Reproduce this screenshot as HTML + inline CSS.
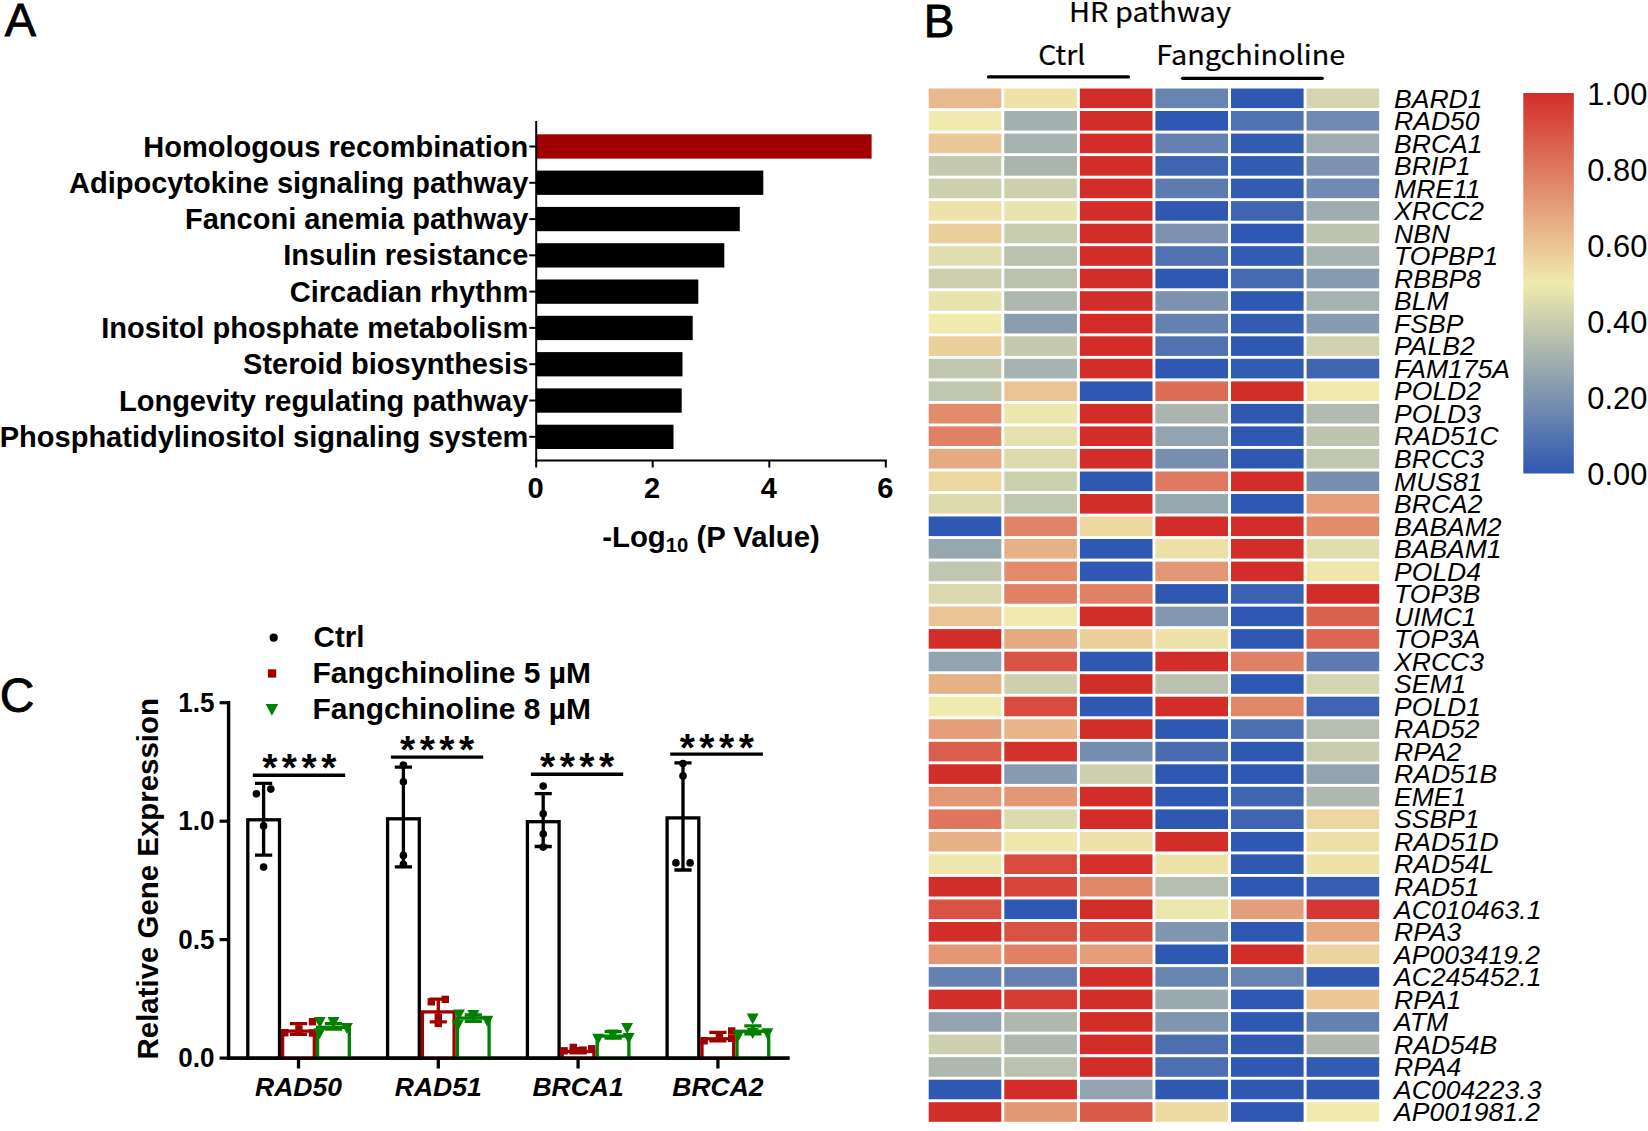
<!DOCTYPE html>
<html lang="en"><head><meta charset="utf-8"><title>Figure</title>
<style>
html,body{margin:0;padding:0;background:#fff;}
body{width:1648px;height:1131px;overflow:hidden;}
svg{display:block;font-family:"Liberation Sans", Arial, Helvetica, sans-serif;}
</style></head><body>
<svg width="1648" height="1131" viewBox="0 0 1648 1131">
<rect width="1648" height="1131" fill="#fff"/>
<g id="panelA">
<text x="4.8" y="35.8" font-size="47" font-weight="normal" font-style="normal" text-anchor="start" fill="#000" stroke="#000" stroke-width="0.8">A</text>
<rect x="536.2" y="134.3" width="335.4" height="24.3" fill="#a00000"/>
<line x1="529.3" x2="536.2" y1="146.5" y2="146.5" stroke="#000" stroke-width="2"/>
<text x="528.3" y="156.5" font-size="29" font-weight="bold" font-style="normal" text-anchor="end" fill="#000">Homologous recombination</text>
<rect x="536.2" y="170.6" width="227.1" height="24.3" fill="#000"/>
<line x1="529.3" x2="536.2" y1="182.8" y2="182.8" stroke="#000" stroke-width="2"/>
<text x="528.3" y="192.8" font-size="29" font-weight="bold" font-style="normal" text-anchor="end" fill="#000">Adipocytokine signaling pathway</text>
<rect x="536.2" y="206.9" width="203.6" height="24.3" fill="#000"/>
<line x1="529.3" x2="536.2" y1="219.1" y2="219.1" stroke="#000" stroke-width="2"/>
<text x="528.3" y="229.1" font-size="29" font-weight="bold" font-style="normal" text-anchor="end" fill="#000">Fanconi anemia pathway</text>
<rect x="536.2" y="243.2" width="188.1" height="24.3" fill="#000"/>
<line x1="529.3" x2="536.2" y1="255.3" y2="255.3" stroke="#000" stroke-width="2"/>
<text x="528.3" y="265.4" font-size="29" font-weight="bold" font-style="normal" text-anchor="end" fill="#000">Insulin resistance</text>
<rect x="536.2" y="279.5" width="162.1" height="24.3" fill="#000"/>
<line x1="529.3" x2="536.2" y1="291.6" y2="291.6" stroke="#000" stroke-width="2"/>
<text x="528.3" y="301.6" font-size="29" font-weight="bold" font-style="normal" text-anchor="end" fill="#000">Circadian rhythm</text>
<rect x="536.2" y="315.8" width="156.5" height="24.3" fill="#000"/>
<line x1="529.3" x2="536.2" y1="327.9" y2="327.9" stroke="#000" stroke-width="2"/>
<text x="528.3" y="337.9" font-size="29" font-weight="bold" font-style="normal" text-anchor="end" fill="#000">Inositol phosphate metabolism</text>
<rect x="536.2" y="352.1" width="146.3" height="24.3" fill="#000"/>
<line x1="529.3" x2="536.2" y1="364.2" y2="364.2" stroke="#000" stroke-width="2"/>
<text x="528.3" y="374.2" font-size="29" font-weight="bold" font-style="normal" text-anchor="end" fill="#000">Steroid biosynthesis</text>
<rect x="536.2" y="388.4" width="145.5" height="24.3" fill="#000"/>
<line x1="529.3" x2="536.2" y1="400.5" y2="400.5" stroke="#000" stroke-width="2"/>
<text x="528.3" y="410.5" font-size="29" font-weight="bold" font-style="normal" text-anchor="end" fill="#000">Longevity regulating pathway</text>
<rect x="536.2" y="424.7" width="137.3" height="24.3" fill="#000"/>
<line x1="529.3" x2="536.2" y1="436.8" y2="436.8" stroke="#000" stroke-width="2"/>
<text x="528.3" y="446.8" font-size="29" font-weight="bold" font-style="normal" text-anchor="end" fill="#000">Phosphatidylinositol signaling system</text>
<line x1="536.2" x2="536.2" y1="121" y2="461.5" stroke="#000" stroke-width="2"/>
<line x1="535.2" x2="886.8" y1="460.5" y2="460.5" stroke="#000" stroke-width="2"/>
<line x1="536.2" x2="536.2" y1="460.5" y2="467.5" stroke="#000" stroke-width="2"/>
<text x="535.6" y="497.7" font-size="29" font-weight="bold" font-style="normal" text-anchor="middle" fill="#000">0</text>
<line x1="652.7" x2="652.7" y1="460.5" y2="467.5" stroke="#000" stroke-width="2"/>
<text x="652.1" y="497.7" font-size="29" font-weight="bold" font-style="normal" text-anchor="middle" fill="#000">2</text>
<line x1="769.3" x2="769.3" y1="460.5" y2="467.5" stroke="#000" stroke-width="2"/>
<text x="768.7" y="497.7" font-size="29" font-weight="bold" font-style="normal" text-anchor="middle" fill="#000">4</text>
<line x1="885.8" x2="885.8" y1="460.5" y2="467.5" stroke="#000" stroke-width="2"/>
<text x="885.2" y="497.7" font-size="29" font-weight="bold" font-style="normal" text-anchor="middle" fill="#000">6</text>
<text x="602.2" y="547.3" font-size="29" font-weight="bold" fill="#000" textLength="217.6" lengthAdjust="spacingAndGlyphs">-Log<tspan font-size="20" dy="5">10</tspan><tspan dy="-5"> (P Value)</tspan></text>
</g>
<g id="panelB">
<text x="923.8" y="37" font-size="46" font-weight="normal" font-style="normal" text-anchor="start" fill="#000" stroke="#000" stroke-width="0.8">B</text>
<text x="1069" y="21.8" font-size="27" font-weight="normal" font-style="normal" text-anchor="start" fill="#000" font-family='"Noto Sans CJK SC", "Liberation Sans", sans-serif' textLength="162" lengthAdjust="spacingAndGlyphs" stroke="#000" stroke-width="0.2">HR pathway</text>
<text x="1038.3" y="64.9" font-size="27" font-weight="normal" font-style="normal" text-anchor="start" fill="#000" font-family='"Noto Sans CJK SC", "Liberation Sans", sans-serif' textLength="47" lengthAdjust="spacingAndGlyphs" stroke="#000" stroke-width="0.2">Ctrl</text>
<text x="1156.2" y="64.9" font-size="27" font-weight="normal" font-style="normal" text-anchor="start" fill="#000" font-family='"Noto Sans CJK SC", "Liberation Sans", sans-serif' textLength="189" lengthAdjust="spacingAndGlyphs" stroke="#000" stroke-width="0.2">Fangchinoline</text>
<line x1="988.5" x2="1128.5" y1="76.9" y2="76.9" stroke="#000" stroke-width="3.2" stroke-linecap="round"/>
<line x1="1182.5" x2="1322.3" y1="78.3" y2="78.3" stroke="#000" stroke-width="3.2" stroke-linecap="round"/>
<rect x="928.7" y="88.5" width="72.6" height="19.6" fill="#e8b98c"/>
<rect x="1004.3" y="88.5" width="72.6" height="19.6" fill="#efe2a9"/>
<rect x="1079.9" y="88.5" width="72.6" height="19.6" fill="#d32d2a"/>
<rect x="1155.4" y="88.5" width="72.6" height="19.6" fill="#6884b1"/>
<rect x="1231.0" y="88.5" width="72.6" height="19.6" fill="#2e58b2"/>
<rect x="1306.6" y="88.5" width="72.6" height="19.6" fill="#d5d6af"/>
<text x="1394.1" y="107.5" font-size="26.5" font-weight="normal" font-style="italic" text-anchor="start" fill="#000">BARD1</text>
<rect x="928.7" y="111.0" width="72.6" height="19.6" fill="#f0eaae"/>
<rect x="1004.3" y="111.0" width="72.6" height="19.6" fill="#a2b0b0"/>
<rect x="1079.9" y="111.0" width="72.6" height="19.6" fill="#d32d2a"/>
<rect x="1155.4" y="111.0" width="72.6" height="19.6" fill="#2e58b2"/>
<rect x="1231.0" y="111.0" width="72.6" height="19.6" fill="#5172b1"/>
<rect x="1306.6" y="111.0" width="72.6" height="19.6" fill="#708ab1"/>
<text x="1394.1" y="130.0" font-size="26.5" font-weight="normal" font-style="italic" text-anchor="start" fill="#000">RAD50</text>
<rect x="928.7" y="133.6" width="72.6" height="19.6" fill="#ebc896"/>
<rect x="1004.3" y="133.6" width="72.6" height="19.6" fill="#a6b3b0"/>
<rect x="1079.9" y="133.6" width="72.6" height="19.6" fill="#d32d2a"/>
<rect x="1155.4" y="133.6" width="72.6" height="19.6" fill="#6481b1"/>
<rect x="1231.0" y="133.6" width="72.6" height="19.6" fill="#325bb2"/>
<rect x="1306.6" y="133.6" width="72.6" height="19.6" fill="#9fadb0"/>
<text x="1394.1" y="152.6" font-size="26.5" font-weight="normal" font-style="italic" text-anchor="start" fill="#000">BRCA1</text>
<rect x="928.7" y="156.1" width="72.6" height="19.6" fill="#c5caaf"/>
<rect x="1004.3" y="156.1" width="72.6" height="19.6" fill="#aab5af"/>
<rect x="1079.9" y="156.1" width="72.6" height="19.6" fill="#d32d2a"/>
<rect x="1155.4" y="156.1" width="72.6" height="19.6" fill="#3e64b2"/>
<rect x="1231.0" y="156.1" width="72.6" height="19.6" fill="#325bb2"/>
<rect x="1306.6" y="156.1" width="72.6" height="19.6" fill="#7c92b0"/>
<text x="1394.1" y="175.1" font-size="26.5" font-weight="normal" font-style="italic" text-anchor="start" fill="#000">BRIP1</text>
<rect x="928.7" y="178.6" width="72.6" height="19.6" fill="#cdd0af"/>
<rect x="1004.3" y="178.6" width="72.6" height="19.6" fill="#cdd0af"/>
<rect x="1079.9" y="178.6" width="72.6" height="19.6" fill="#d32d2a"/>
<rect x="1155.4" y="178.6" width="72.6" height="19.6" fill="#5d7bb1"/>
<rect x="1231.0" y="178.6" width="72.6" height="19.6" fill="#325bb2"/>
<rect x="1306.6" y="178.6" width="72.6" height="19.6" fill="#708ab1"/>
<text x="1394.1" y="197.6" font-size="26.5" font-weight="normal" font-style="italic" text-anchor="start" fill="#000">MRE11</text>
<rect x="928.7" y="201.1" width="72.6" height="19.6" fill="#efe2a9"/>
<rect x="1004.3" y="201.1" width="72.6" height="19.6" fill="#e8e4ae"/>
<rect x="1079.9" y="201.1" width="72.6" height="19.6" fill="#d32d2a"/>
<rect x="1155.4" y="201.1" width="72.6" height="19.6" fill="#2e58b2"/>
<rect x="1231.0" y="201.1" width="72.6" height="19.6" fill="#3e64b2"/>
<rect x="1306.6" y="201.1" width="72.6" height="19.6" fill="#9fadb0"/>
<text x="1394.1" y="220.1" font-size="26.5" font-weight="normal" font-style="italic" text-anchor="start" fill="#000">XRCC2</text>
<rect x="928.7" y="223.7" width="72.6" height="19.6" fill="#ecd09c"/>
<rect x="1004.3" y="223.7" width="72.6" height="19.6" fill="#c9cdaf"/>
<rect x="1079.9" y="223.7" width="72.6" height="19.6" fill="#d32d2a"/>
<rect x="1155.4" y="223.7" width="72.6" height="19.6" fill="#7c92b0"/>
<rect x="1231.0" y="223.7" width="72.6" height="19.6" fill="#2e58b2"/>
<rect x="1306.6" y="223.7" width="72.6" height="19.6" fill="#bec4af"/>
<text x="1394.1" y="242.7" font-size="26.5" font-weight="normal" font-style="italic" text-anchor="start" fill="#000">NBN</text>
<rect x="928.7" y="246.2" width="72.6" height="19.6" fill="#e0deae"/>
<rect x="1004.3" y="246.2" width="72.6" height="19.6" fill="#bac1af"/>
<rect x="1079.9" y="246.2" width="72.6" height="19.6" fill="#d32d2a"/>
<rect x="1155.4" y="246.2" width="72.6" height="19.6" fill="#5172b1"/>
<rect x="1231.0" y="246.2" width="72.6" height="19.6" fill="#325bb2"/>
<rect x="1306.6" y="246.2" width="72.6" height="19.6" fill="#a6b3b0"/>
<text x="1394.1" y="265.2" font-size="26.5" font-weight="normal" font-style="italic" text-anchor="start" fill="#000">TOPBP1</text>
<rect x="928.7" y="268.7" width="72.6" height="19.6" fill="#cdd0af"/>
<rect x="1004.3" y="268.7" width="72.6" height="19.6" fill="#bac1af"/>
<rect x="1079.9" y="268.7" width="72.6" height="19.6" fill="#d32d2a"/>
<rect x="1155.4" y="268.7" width="72.6" height="19.6" fill="#2e58b2"/>
<rect x="1231.0" y="268.7" width="72.6" height="19.6" fill="#456ab2"/>
<rect x="1306.6" y="268.7" width="72.6" height="19.6" fill="#879bb0"/>
<text x="1394.1" y="287.7" font-size="26.5" font-weight="normal" font-style="italic" text-anchor="start" fill="#000">RBBP8</text>
<rect x="928.7" y="291.2" width="72.6" height="19.6" fill="#e8e4ae"/>
<rect x="1004.3" y="291.2" width="72.6" height="19.6" fill="#aeb8af"/>
<rect x="1079.9" y="291.2" width="72.6" height="19.6" fill="#d32d2a"/>
<rect x="1155.4" y="291.2" width="72.6" height="19.6" fill="#7c92b0"/>
<rect x="1231.0" y="291.2" width="72.6" height="19.6" fill="#2e58b2"/>
<rect x="1306.6" y="291.2" width="72.6" height="19.6" fill="#a6b3b0"/>
<text x="1394.1" y="310.2" font-size="26.5" font-weight="normal" font-style="italic" text-anchor="start" fill="#000">BLM</text>
<rect x="928.7" y="313.8" width="72.6" height="19.6" fill="#f0eaae"/>
<rect x="1004.3" y="313.8" width="72.6" height="19.6" fill="#8b9eb0"/>
<rect x="1079.9" y="313.8" width="72.6" height="19.6" fill="#d32d2a"/>
<rect x="1155.4" y="313.8" width="72.6" height="19.6" fill="#6481b1"/>
<rect x="1231.0" y="313.8" width="72.6" height="19.6" fill="#325bb2"/>
<rect x="1306.6" y="313.8" width="72.6" height="19.6" fill="#879bb0"/>
<text x="1394.1" y="332.8" font-size="26.5" font-weight="normal" font-style="italic" text-anchor="start" fill="#000">FSBP</text>
<rect x="928.7" y="336.3" width="72.6" height="19.6" fill="#ecd09c"/>
<rect x="1004.3" y="336.3" width="72.6" height="19.6" fill="#c5caaf"/>
<rect x="1079.9" y="336.3" width="72.6" height="19.6" fill="#d32d2a"/>
<rect x="1155.4" y="336.3" width="72.6" height="19.6" fill="#5172b1"/>
<rect x="1231.0" y="336.3" width="72.6" height="19.6" fill="#2e58b2"/>
<rect x="1306.6" y="336.3" width="72.6" height="19.6" fill="#d1d3af"/>
<text x="1394.1" y="355.3" font-size="26.5" font-weight="normal" font-style="italic" text-anchor="start" fill="#000">PALB2</text>
<rect x="928.7" y="358.8" width="72.6" height="19.6" fill="#c1c7af"/>
<rect x="1004.3" y="358.8" width="72.6" height="19.6" fill="#a6b3b0"/>
<rect x="1079.9" y="358.8" width="72.6" height="19.6" fill="#d32d2a"/>
<rect x="1155.4" y="358.8" width="72.6" height="19.6" fill="#2e58b2"/>
<rect x="1231.0" y="358.8" width="72.6" height="19.6" fill="#325bb2"/>
<rect x="1306.6" y="358.8" width="72.6" height="19.6" fill="#3e64b2"/>
<text x="1394.1" y="377.8" font-size="26.5" font-weight="normal" font-style="italic" text-anchor="start" fill="#000">FAM175A</text>
<rect x="928.7" y="381.4" width="72.6" height="19.6" fill="#c1c7af"/>
<rect x="1004.3" y="381.4" width="72.6" height="19.6" fill="#eac494"/>
<rect x="1079.9" y="381.4" width="72.6" height="19.6" fill="#2e58b2"/>
<rect x="1155.4" y="381.4" width="72.6" height="19.6" fill="#dd6d57"/>
<rect x="1231.0" y="381.4" width="72.6" height="19.6" fill="#d32d2a"/>
<rect x="1306.6" y="381.4" width="72.6" height="19.6" fill="#f0eaae"/>
<text x="1394.1" y="400.4" font-size="26.5" font-weight="normal" font-style="italic" text-anchor="start" fill="#000">POLD2</text>
<rect x="928.7" y="403.9" width="72.6" height="19.6" fill="#e28c6c"/>
<rect x="1004.3" y="403.9" width="72.6" height="19.6" fill="#ece7ae"/>
<rect x="1079.9" y="403.9" width="72.6" height="19.6" fill="#d32d2a"/>
<rect x="1155.4" y="403.9" width="72.6" height="19.6" fill="#aab5af"/>
<rect x="1231.0" y="403.9" width="72.6" height="19.6" fill="#2e58b2"/>
<rect x="1306.6" y="403.9" width="72.6" height="19.6" fill="#b2bbaf"/>
<text x="1394.1" y="422.9" font-size="26.5" font-weight="normal" font-style="italic" text-anchor="start" fill="#000">POLD3</text>
<rect x="928.7" y="426.4" width="72.6" height="19.6" fill="#e08064"/>
<rect x="1004.3" y="426.4" width="72.6" height="19.6" fill="#e4e1ae"/>
<rect x="1079.9" y="426.4" width="72.6" height="19.6" fill="#d32d2a"/>
<rect x="1155.4" y="426.4" width="72.6" height="19.6" fill="#93a4b0"/>
<rect x="1231.0" y="426.4" width="72.6" height="19.6" fill="#2e58b2"/>
<rect x="1306.6" y="426.4" width="72.6" height="19.6" fill="#bec4af"/>
<text x="1394.1" y="445.4" font-size="26.5" font-weight="normal" font-style="italic" text-anchor="start" fill="#000">RAD51C</text>
<rect x="928.7" y="448.9" width="72.6" height="19.6" fill="#e6aa81"/>
<rect x="1004.3" y="448.9" width="72.6" height="19.6" fill="#dddbae"/>
<rect x="1079.9" y="448.9" width="72.6" height="19.6" fill="#d32d2a"/>
<rect x="1155.4" y="448.9" width="72.6" height="19.6" fill="#788fb0"/>
<rect x="1231.0" y="448.9" width="72.6" height="19.6" fill="#2e58b2"/>
<rect x="1306.6" y="448.9" width="72.6" height="19.6" fill="#c1c7af"/>
<text x="1394.1" y="467.9" font-size="26.5" font-weight="normal" font-style="italic" text-anchor="start" fill="#000">BRCC3</text>
<rect x="928.7" y="471.5" width="72.6" height="19.6" fill="#edd7a1"/>
<rect x="1004.3" y="471.5" width="72.6" height="19.6" fill="#cdd0af"/>
<rect x="1079.9" y="471.5" width="72.6" height="19.6" fill="#2e58b2"/>
<rect x="1155.4" y="471.5" width="72.6" height="19.6" fill="#df795f"/>
<rect x="1231.0" y="471.5" width="72.6" height="19.6" fill="#d32d2a"/>
<rect x="1306.6" y="471.5" width="72.6" height="19.6" fill="#788fb0"/>
<text x="1394.1" y="490.5" font-size="26.5" font-weight="normal" font-style="italic" text-anchor="start" fill="#000">MUS81</text>
<rect x="928.7" y="494.0" width="72.6" height="19.6" fill="#dddbae"/>
<rect x="1004.3" y="494.0" width="72.6" height="19.6" fill="#c1c7af"/>
<rect x="1079.9" y="494.0" width="72.6" height="19.6" fill="#d32d2a"/>
<rect x="1155.4" y="494.0" width="72.6" height="19.6" fill="#97a7b0"/>
<rect x="1231.0" y="494.0" width="72.6" height="19.6" fill="#2e58b2"/>
<rect x="1306.6" y="494.0" width="72.6" height="19.6" fill="#e49e79"/>
<text x="1394.1" y="513.0" font-size="26.5" font-weight="normal" font-style="italic" text-anchor="start" fill="#000">BRCA2</text>
<rect x="928.7" y="516.5" width="72.6" height="19.6" fill="#2e58b2"/>
<rect x="1004.3" y="516.5" width="72.6" height="19.6" fill="#e08467"/>
<rect x="1079.9" y="516.5" width="72.6" height="19.6" fill="#edd7a1"/>
<rect x="1155.4" y="516.5" width="72.6" height="19.6" fill="#d32d2a"/>
<rect x="1231.0" y="516.5" width="72.6" height="19.6" fill="#d32d2a"/>
<rect x="1306.6" y="516.5" width="72.6" height="19.6" fill="#e28c6c"/>
<text x="1394.1" y="535.5" font-size="26.5" font-weight="normal" font-style="italic" text-anchor="start" fill="#000">BABAM2</text>
<rect x="928.7" y="539.0" width="72.6" height="19.6" fill="#97a7b0"/>
<rect x="1004.3" y="539.0" width="72.6" height="19.6" fill="#e7b186"/>
<rect x="1079.9" y="539.0" width="72.6" height="19.6" fill="#2e58b2"/>
<rect x="1155.4" y="539.0" width="72.6" height="19.6" fill="#eedfa6"/>
<rect x="1231.0" y="539.0" width="72.6" height="19.6" fill="#d32d2a"/>
<rect x="1306.6" y="539.0" width="72.6" height="19.6" fill="#e0deae"/>
<text x="1394.1" y="558.0" font-size="26.5" font-weight="normal" font-style="italic" text-anchor="start" fill="#000">BABAM1</text>
<rect x="928.7" y="561.6" width="72.6" height="19.6" fill="#c1c7af"/>
<rect x="1004.3" y="561.6" width="72.6" height="19.6" fill="#e28c6c"/>
<rect x="1079.9" y="561.6" width="72.6" height="19.6" fill="#2e58b2"/>
<rect x="1155.4" y="561.6" width="72.6" height="19.6" fill="#e39774"/>
<rect x="1231.0" y="561.6" width="72.6" height="19.6" fill="#d32d2a"/>
<rect x="1306.6" y="561.6" width="72.6" height="19.6" fill="#efe6ab"/>
<text x="1394.1" y="580.6" font-size="26.5" font-weight="normal" font-style="italic" text-anchor="start" fill="#000">POLD4</text>
<rect x="928.7" y="584.1" width="72.6" height="19.6" fill="#d9d8ae"/>
<rect x="1004.3" y="584.1" width="72.6" height="19.6" fill="#e08064"/>
<rect x="1079.9" y="584.1" width="72.6" height="19.6" fill="#e08064"/>
<rect x="1155.4" y="584.1" width="72.6" height="19.6" fill="#2e58b2"/>
<rect x="1231.0" y="584.1" width="72.6" height="19.6" fill="#3a61b2"/>
<rect x="1306.6" y="584.1" width="72.6" height="19.6" fill="#d32d2a"/>
<text x="1394.1" y="603.1" font-size="26.5" font-weight="normal" font-style="italic" text-anchor="start" fill="#000">TOP3B</text>
<rect x="928.7" y="606.6" width="72.6" height="19.6" fill="#eac494"/>
<rect x="1004.3" y="606.6" width="72.6" height="19.6" fill="#f0eaae"/>
<rect x="1079.9" y="606.6" width="72.6" height="19.6" fill="#d32d2a"/>
<rect x="1155.4" y="606.6" width="72.6" height="19.6" fill="#8398b0"/>
<rect x="1231.0" y="606.6" width="72.6" height="19.6" fill="#2e58b2"/>
<rect x="1306.6" y="606.6" width="72.6" height="19.6" fill="#db624f"/>
<text x="1394.1" y="625.6" font-size="26.5" font-weight="normal" font-style="italic" text-anchor="start" fill="#000">UIMC1</text>
<rect x="928.7" y="629.1" width="72.6" height="19.6" fill="#d32d2a"/>
<rect x="1004.3" y="629.1" width="72.6" height="19.6" fill="#e6aa81"/>
<rect x="1079.9" y="629.1" width="72.6" height="19.6" fill="#ecd09c"/>
<rect x="1155.4" y="629.1" width="72.6" height="19.6" fill="#efe2a9"/>
<rect x="1231.0" y="629.1" width="72.6" height="19.6" fill="#2e58b2"/>
<rect x="1306.6" y="629.1" width="72.6" height="19.6" fill="#dc6652"/>
<text x="1394.1" y="648.1" font-size="26.5" font-weight="normal" font-style="italic" text-anchor="start" fill="#000">TOP3A</text>
<rect x="928.7" y="651.7" width="72.6" height="19.6" fill="#93a4b0"/>
<rect x="1004.3" y="651.7" width="72.6" height="19.6" fill="#d95344"/>
<rect x="1079.9" y="651.7" width="72.6" height="19.6" fill="#2e58b2"/>
<rect x="1155.4" y="651.7" width="72.6" height="19.6" fill="#d32d2a"/>
<rect x="1231.0" y="651.7" width="72.6" height="19.6" fill="#e08064"/>
<rect x="1306.6" y="651.7" width="72.6" height="19.6" fill="#5d7bb1"/>
<text x="1394.1" y="670.7" font-size="26.5" font-weight="normal" font-style="italic" text-anchor="start" fill="#000">XRCC3</text>
<rect x="928.7" y="674.2" width="72.6" height="19.6" fill="#e7b186"/>
<rect x="1004.3" y="674.2" width="72.6" height="19.6" fill="#cdd0af"/>
<rect x="1079.9" y="674.2" width="72.6" height="19.6" fill="#d32d2a"/>
<rect x="1155.4" y="674.2" width="72.6" height="19.6" fill="#bac1af"/>
<rect x="1231.0" y="674.2" width="72.6" height="19.6" fill="#2e58b2"/>
<rect x="1306.6" y="674.2" width="72.6" height="19.6" fill="#d5d6af"/>
<text x="1394.1" y="693.2" font-size="26.5" font-weight="normal" font-style="italic" text-anchor="start" fill="#000">SEM1</text>
<rect x="928.7" y="696.7" width="72.6" height="19.6" fill="#f0eaae"/>
<rect x="1004.3" y="696.7" width="72.6" height="19.6" fill="#d84b3f"/>
<rect x="1079.9" y="696.7" width="72.6" height="19.6" fill="#2e58b2"/>
<rect x="1155.4" y="696.7" width="72.6" height="19.6" fill="#d32d2a"/>
<rect x="1231.0" y="696.7" width="72.6" height="19.6" fill="#e18869"/>
<rect x="1306.6" y="696.7" width="72.6" height="19.6" fill="#3e64b2"/>
<text x="1394.1" y="715.7" font-size="26.5" font-weight="normal" font-style="italic" text-anchor="start" fill="#000">POLD1</text>
<rect x="928.7" y="719.3" width="72.6" height="19.6" fill="#e49e79"/>
<rect x="1004.3" y="719.3" width="72.6" height="19.6" fill="#e8b589"/>
<rect x="1079.9" y="719.3" width="72.6" height="19.6" fill="#d32d2a"/>
<rect x="1155.4" y="719.3" width="72.6" height="19.6" fill="#2e58b2"/>
<rect x="1231.0" y="719.3" width="72.6" height="19.6" fill="#4d6fb1"/>
<rect x="1306.6" y="719.3" width="72.6" height="19.6" fill="#b6beaf"/>
<text x="1394.1" y="738.3" font-size="26.5" font-weight="normal" font-style="italic" text-anchor="start" fill="#000">RAD52</text>
<rect x="928.7" y="741.8" width="72.6" height="19.6" fill="#db5e4c"/>
<rect x="1004.3" y="741.8" width="72.6" height="19.6" fill="#d4312d"/>
<rect x="1079.9" y="741.8" width="72.6" height="19.6" fill="#748db1"/>
<rect x="1155.4" y="741.8" width="72.6" height="19.6" fill="#496cb1"/>
<rect x="1231.0" y="741.8" width="72.6" height="19.6" fill="#2e58b2"/>
<rect x="1306.6" y="741.8" width="72.6" height="19.6" fill="#c9cdaf"/>
<text x="1394.1" y="760.8" font-size="26.5" font-weight="normal" font-style="italic" text-anchor="start" fill="#000">RPA2</text>
<rect x="928.7" y="764.3" width="72.6" height="19.6" fill="#d32d2a"/>
<rect x="1004.3" y="764.3" width="72.6" height="19.6" fill="#879bb0"/>
<rect x="1079.9" y="764.3" width="72.6" height="19.6" fill="#cdd0af"/>
<rect x="1155.4" y="764.3" width="72.6" height="19.6" fill="#2e58b2"/>
<rect x="1231.0" y="764.3" width="72.6" height="19.6" fill="#2e58b2"/>
<rect x="1306.6" y="764.3" width="72.6" height="19.6" fill="#93a4b0"/>
<text x="1394.1" y="783.3" font-size="26.5" font-weight="normal" font-style="italic" text-anchor="start" fill="#000">RAD51B</text>
<rect x="928.7" y="786.8" width="72.6" height="19.6" fill="#e39774"/>
<rect x="1004.3" y="786.8" width="72.6" height="19.6" fill="#e39774"/>
<rect x="1079.9" y="786.8" width="72.6" height="19.6" fill="#d32d2a"/>
<rect x="1155.4" y="786.8" width="72.6" height="19.6" fill="#2e58b2"/>
<rect x="1231.0" y="786.8" width="72.6" height="19.6" fill="#3e64b2"/>
<rect x="1306.6" y="786.8" width="72.6" height="19.6" fill="#aeb8af"/>
<text x="1394.1" y="805.8" font-size="26.5" font-weight="normal" font-style="italic" text-anchor="start" fill="#000">EME1</text>
<rect x="928.7" y="809.4" width="72.6" height="19.6" fill="#de755c"/>
<rect x="1004.3" y="809.4" width="72.6" height="19.6" fill="#dddbae"/>
<rect x="1079.9" y="809.4" width="72.6" height="19.6" fill="#d32d2a"/>
<rect x="1155.4" y="809.4" width="72.6" height="19.6" fill="#2e58b2"/>
<rect x="1231.0" y="809.4" width="72.6" height="19.6" fill="#3e64b2"/>
<rect x="1306.6" y="809.4" width="72.6" height="19.6" fill="#edd7a1"/>
<text x="1394.1" y="828.4" font-size="26.5" font-weight="normal" font-style="italic" text-anchor="start" fill="#000">SSBP1</text>
<rect x="928.7" y="831.9" width="72.6" height="19.6" fill="#e7b186"/>
<rect x="1004.3" y="831.9" width="72.6" height="19.6" fill="#efe6ab"/>
<rect x="1079.9" y="831.9" width="72.6" height="19.6" fill="#efe2a9"/>
<rect x="1155.4" y="831.9" width="72.6" height="19.6" fill="#d32d2a"/>
<rect x="1231.0" y="831.9" width="72.6" height="19.6" fill="#2e58b2"/>
<rect x="1306.6" y="831.9" width="72.6" height="19.6" fill="#eedfa6"/>
<text x="1394.1" y="850.9" font-size="26.5" font-weight="normal" font-style="italic" text-anchor="start" fill="#000">RAD51D</text>
<rect x="928.7" y="854.4" width="72.6" height="19.6" fill="#efe6ab"/>
<rect x="1004.3" y="854.4" width="72.6" height="19.6" fill="#d84b3f"/>
<rect x="1079.9" y="854.4" width="72.6" height="19.6" fill="#d4312d"/>
<rect x="1155.4" y="854.4" width="72.6" height="19.6" fill="#efe2a9"/>
<rect x="1231.0" y="854.4" width="72.6" height="19.6" fill="#2e58b2"/>
<rect x="1306.6" y="854.4" width="72.6" height="19.6" fill="#efe2a9"/>
<text x="1394.1" y="873.4" font-size="26.5" font-weight="normal" font-style="italic" text-anchor="start" fill="#000">RAD54L</text>
<rect x="928.7" y="876.9" width="72.6" height="19.6" fill="#d32d2a"/>
<rect x="1004.3" y="876.9" width="72.6" height="19.6" fill="#d6443a"/>
<rect x="1079.9" y="876.9" width="72.6" height="19.6" fill="#e18869"/>
<rect x="1155.4" y="876.9" width="72.6" height="19.6" fill="#b6beaf"/>
<rect x="1231.0" y="876.9" width="72.6" height="19.6" fill="#2e58b2"/>
<rect x="1306.6" y="876.9" width="72.6" height="19.6" fill="#365eb2"/>
<text x="1394.1" y="895.9" font-size="26.5" font-weight="normal" font-style="italic" text-anchor="start" fill="#000">RAD51</text>
<rect x="928.7" y="899.5" width="72.6" height="19.6" fill="#d95344"/>
<rect x="1004.3" y="899.5" width="72.6" height="19.6" fill="#2e58b2"/>
<rect x="1079.9" y="899.5" width="72.6" height="19.6" fill="#d32d2a"/>
<rect x="1155.4" y="899.5" width="72.6" height="19.6" fill="#ece7ae"/>
<rect x="1231.0" y="899.5" width="72.6" height="19.6" fill="#e49e79"/>
<rect x="1306.6" y="899.5" width="72.6" height="19.6" fill="#d53832"/>
<text x="1394.1" y="918.5" font-size="26.5" font-weight="normal" font-style="italic" text-anchor="start" fill="#000">AC010463.1</text>
<rect x="928.7" y="922.0" width="72.6" height="19.6" fill="#d32d2a"/>
<rect x="1004.3" y="922.0" width="72.6" height="19.6" fill="#d95344"/>
<rect x="1079.9" y="922.0" width="72.6" height="19.6" fill="#d7473c"/>
<rect x="1155.4" y="922.0" width="72.6" height="19.6" fill="#7f95b0"/>
<rect x="1231.0" y="922.0" width="72.6" height="19.6" fill="#2e58b2"/>
<rect x="1306.6" y="922.0" width="72.6" height="19.6" fill="#e6a67e"/>
<text x="1394.1" y="941.0" font-size="26.5" font-weight="normal" font-style="italic" text-anchor="start" fill="#000">RPA3</text>
<rect x="928.7" y="944.5" width="72.6" height="19.6" fill="#e39774"/>
<rect x="1004.3" y="944.5" width="72.6" height="19.6" fill="#e08064"/>
<rect x="1079.9" y="944.5" width="72.6" height="19.6" fill="#e49e79"/>
<rect x="1155.4" y="944.5" width="72.6" height="19.6" fill="#2e58b2"/>
<rect x="1231.0" y="944.5" width="72.6" height="19.6" fill="#d32d2a"/>
<rect x="1306.6" y="944.5" width="72.6" height="19.6" fill="#edd39e"/>
<text x="1394.1" y="963.5" font-size="26.5" font-weight="normal" font-style="italic" text-anchor="start" fill="#000">AP003419.2</text>
<rect x="928.7" y="967.1" width="72.6" height="19.6" fill="#6481b1"/>
<rect x="1004.3" y="967.1" width="72.6" height="19.6" fill="#6481b1"/>
<rect x="1079.9" y="967.1" width="72.6" height="19.6" fill="#d32d2a"/>
<rect x="1155.4" y="967.1" width="72.6" height="19.6" fill="#6884b1"/>
<rect x="1231.0" y="967.1" width="72.6" height="19.6" fill="#6884b1"/>
<rect x="1306.6" y="967.1" width="72.6" height="19.6" fill="#2e58b2"/>
<text x="1394.1" y="986.1" font-size="26.5" font-weight="normal" font-style="italic" text-anchor="start" fill="#000">AC245452.1</text>
<rect x="928.7" y="989.6" width="72.6" height="19.6" fill="#d32d2a"/>
<rect x="1004.3" y="989.6" width="72.6" height="19.6" fill="#d53c35"/>
<rect x="1079.9" y="989.6" width="72.6" height="19.6" fill="#d32d2a"/>
<rect x="1155.4" y="989.6" width="72.6" height="19.6" fill="#9baab0"/>
<rect x="1231.0" y="989.6" width="72.6" height="19.6" fill="#2e58b2"/>
<rect x="1306.6" y="989.6" width="72.6" height="19.6" fill="#ebc896"/>
<text x="1394.1" y="1008.6" font-size="26.5" font-weight="normal" font-style="italic" text-anchor="start" fill="#000">RPA1</text>
<rect x="928.7" y="1012.1" width="72.6" height="19.6" fill="#93a4b0"/>
<rect x="1004.3" y="1012.1" width="72.6" height="19.6" fill="#aeb8af"/>
<rect x="1079.9" y="1012.1" width="72.6" height="19.6" fill="#d32d2a"/>
<rect x="1155.4" y="1012.1" width="72.6" height="19.6" fill="#7f95b0"/>
<rect x="1231.0" y="1012.1" width="72.6" height="19.6" fill="#2e58b2"/>
<rect x="1306.6" y="1012.1" width="72.6" height="19.6" fill="#6481b1"/>
<text x="1394.1" y="1031.1" font-size="26.5" font-weight="normal" font-style="italic" text-anchor="start" fill="#000">ATM</text>
<rect x="928.7" y="1034.6" width="72.6" height="19.6" fill="#cdd0af"/>
<rect x="1004.3" y="1034.6" width="72.6" height="19.6" fill="#aeb8af"/>
<rect x="1079.9" y="1034.6" width="72.6" height="19.6" fill="#d32d2a"/>
<rect x="1155.4" y="1034.6" width="72.6" height="19.6" fill="#4d6fb1"/>
<rect x="1231.0" y="1034.6" width="72.6" height="19.6" fill="#2e58b2"/>
<rect x="1306.6" y="1034.6" width="72.6" height="19.6" fill="#aeb8af"/>
<text x="1394.1" y="1053.6" font-size="26.5" font-weight="normal" font-style="italic" text-anchor="start" fill="#000">RAD54B</text>
<rect x="928.7" y="1057.2" width="72.6" height="19.6" fill="#aeb8af"/>
<rect x="1004.3" y="1057.2" width="72.6" height="19.6" fill="#bac1af"/>
<rect x="1079.9" y="1057.2" width="72.6" height="19.6" fill="#d32d2a"/>
<rect x="1155.4" y="1057.2" width="72.6" height="19.6" fill="#4d6fb1"/>
<rect x="1231.0" y="1057.2" width="72.6" height="19.6" fill="#2e58b2"/>
<rect x="1306.6" y="1057.2" width="72.6" height="19.6" fill="#325bb2"/>
<text x="1394.1" y="1076.2" font-size="26.5" font-weight="normal" font-style="italic" text-anchor="start" fill="#000">RPA4</text>
<rect x="928.7" y="1079.7" width="72.6" height="19.6" fill="#2e58b2"/>
<rect x="1004.3" y="1079.7" width="72.6" height="19.6" fill="#d32d2a"/>
<rect x="1079.9" y="1079.7" width="72.6" height="19.6" fill="#93a4b0"/>
<rect x="1155.4" y="1079.7" width="72.6" height="19.6" fill="#2e58b2"/>
<rect x="1231.0" y="1079.7" width="72.6" height="19.6" fill="#2e58b2"/>
<rect x="1306.6" y="1079.7" width="72.6" height="19.6" fill="#2e58b2"/>
<text x="1394.1" y="1098.7" font-size="26.5" font-weight="normal" font-style="italic" text-anchor="start" fill="#000">AC004223.3</text>
<rect x="928.7" y="1102.2" width="72.6" height="19.6" fill="#d32d2a"/>
<rect x="1004.3" y="1102.2" width="72.6" height="19.6" fill="#e39774"/>
<rect x="1079.9" y="1102.2" width="72.6" height="19.6" fill="#da5a4a"/>
<rect x="1155.4" y="1102.2" width="72.6" height="19.6" fill="#eedba3"/>
<rect x="1231.0" y="1102.2" width="72.6" height="19.6" fill="#2e58b2"/>
<rect x="1306.6" y="1102.2" width="72.6" height="19.6" fill="#f0eaae"/>
<text x="1394.1" y="1121.2" font-size="26.5" font-weight="normal" font-style="italic" text-anchor="start" fill="#000">AP001981.2</text>
<defs><linearGradient id="cb" x1="0" y1="0" x2="0" y2="1"><stop offset="0" stop-color="#d32d2a"/><stop offset="0.5" stop-color="#f0eaae"/><stop offset="1" stop-color="#2e58b2"/></linearGradient></defs>
<rect x="1523.3" y="93" width="50.5" height="380.5" fill="url(#cb)"/>
<text x="1587.3" y="104.6" font-size="31" font-weight="normal" font-style="normal" text-anchor="start" fill="#000" textLength="60" lengthAdjust="spacingAndGlyphs">1.00</text>
<text x="1587.3" y="180.6" font-size="31" font-weight="normal" font-style="normal" text-anchor="start" fill="#000" textLength="60" lengthAdjust="spacingAndGlyphs">0.80</text>
<text x="1587.3" y="256.6" font-size="31" font-weight="normal" font-style="normal" text-anchor="start" fill="#000" textLength="60" lengthAdjust="spacingAndGlyphs">0.60</text>
<text x="1587.3" y="332.6" font-size="31" font-weight="normal" font-style="normal" text-anchor="start" fill="#000" textLength="60" lengthAdjust="spacingAndGlyphs">0.40</text>
<text x="1587.3" y="408.6" font-size="31" font-weight="normal" font-style="normal" text-anchor="start" fill="#000" textLength="60" lengthAdjust="spacingAndGlyphs">0.20</text>
<text x="1587.3" y="484.6" font-size="31" font-weight="normal" font-style="normal" text-anchor="start" fill="#000" textLength="60" lengthAdjust="spacingAndGlyphs">0.00</text>
</g>
<g id="panelC">
<text x="-0.3" y="712.3" font-size="48" font-weight="normal" font-style="normal" text-anchor="start" fill="#000" stroke="#000" stroke-width="0.8">C</text>
<circle cx="273.7" cy="637.7" r="4.1" fill="#000"/>
<rect x="267.9" y="669.3" width="8.3" height="8.3" fill="#a00000"/>
<polygon points="265.6,704 278.2,704 271.9,715.8" fill="#008000"/>
<text x="313.6" y="647.3" font-size="29.5" font-weight="bold" font-style="normal" text-anchor="start" fill="#000">Ctrl</text>
<text x="312.5" y="683.3" font-size="29.5" font-weight="bold" font-style="normal" text-anchor="start" fill="#000" textLength="278.5" lengthAdjust="spacingAndGlyphs">Fangchinoline 5 µM</text>
<text x="312.5" y="719.1" font-size="29.5" font-weight="bold" font-style="normal" text-anchor="start" fill="#000" textLength="278.5" lengthAdjust="spacingAndGlyphs">Fangchinoline 8 µM</text>
<line x1="228.6" x2="228.6" y1="701.1" y2="1059.8" stroke="#000" stroke-width="3.4"/>
<line x1="226.9" x2="789.5" y1="1058.1" y2="1058.1" stroke="#000" stroke-width="3.4"/>
<line x1="219.6" x2="228.6" y1="1058.1" y2="1058.1" stroke="#000" stroke-width="3.2"/>
<text x="214.4" y="1067.3" font-size="28" font-weight="bold" font-style="normal" text-anchor="end" fill="#000" textLength="36.2" lengthAdjust="spacingAndGlyphs">0.0</text>
<line x1="219.6" x2="228.6" y1="939.6" y2="939.6" stroke="#000" stroke-width="3.2"/>
<text x="214.4" y="948.8" font-size="28" font-weight="bold" font-style="normal" text-anchor="end" fill="#000" textLength="36.2" lengthAdjust="spacingAndGlyphs">0.5</text>
<line x1="219.6" x2="228.6" y1="821.2" y2="821.2" stroke="#000" stroke-width="3.2"/>
<text x="214.4" y="830.4" font-size="28" font-weight="bold" font-style="normal" text-anchor="end" fill="#000" textLength="36.2" lengthAdjust="spacingAndGlyphs">1.0</text>
<line x1="219.6" x2="228.6" y1="702.7" y2="702.7" stroke="#000" stroke-width="3.2"/>
<text x="214.4" y="711.9" font-size="28" font-weight="bold" font-style="normal" text-anchor="end" fill="#000" textLength="36.2" lengthAdjust="spacingAndGlyphs">1.5</text>
<text transform="translate(158.4,1059.4) rotate(-90)" font-size="30" font-weight="bold" textLength="361.3" lengthAdjust="spacingAndGlyphs">Relative Gene Expression</text>
<rect x="247.8" y="819.8" width="31.7" height="238.3" fill="#fff" stroke="#000" stroke-width="3.3"/>
<rect x="282.6" y="1031.1" width="31.7" height="27.0" fill="#fff" stroke="#a00000" stroke-width="3.3"/>
<rect x="317.6" y="1027.3" width="31.7" height="30.8" fill="#fff" stroke="#008000" stroke-width="3.3"/>
<path d="M263.6 783.3V855.1M255.0 783.3h17.2M255.0 855.1h17.2" stroke="#000" stroke-width="3.3" fill="none"/>
<path d="M298.5 1023.6V1034.4M289.9 1023.6h17.2M289.9 1034.4h17.2" stroke="#a00000" stroke-width="3.3" fill="none"/>
<path d="M333.5 1023.6V1029.0M324.9 1023.6h17.2M324.9 1029.0h17.2" stroke="#008000" stroke-width="3.3" fill="none"/>
<circle cx="256.4" cy="793.8" r="3.8" fill="#000"/>
<circle cx="270.8" cy="789.1" r="3.8" fill="#000"/>
<circle cx="263.6" cy="825.9" r="3.8" fill="#000"/>
<circle cx="263.6" cy="867.1" r="3.8" fill="#000"/>
<rect x="281.1" y="1029.0" width="7.4" height="7.4" fill="#a00000"/>
<rect x="308.8" y="1018.0" width="7.4" height="7.4" fill="#a00000"/>
<rect x="295.2" y="1025.3" width="7.4" height="7.4" fill="#a00000"/>
<rect x="308.8" y="1029.3" width="7.4" height="7.4" fill="#a00000"/>
<polygon points="313.8,1017.1 325.8,1017.1 319.8,1028.1" fill="#008000"/>
<polygon points="327.5,1017.1 339.5,1017.1 333.5,1028.1" fill="#008000"/>
<polygon points="340.9,1023 352.9,1023 346.9,1034.0" fill="#008000"/>
<polygon points="313.5,1028.3 325.5,1028.3 319.5,1039.3" fill="#008000"/>
<line x1="252.8" x2="345.2" y1="775.2" y2="775.2" stroke="#000" stroke-width="3.4"/>
<text x="262.2" y="781.3" font-size="39" font-weight="bold" font-style="normal" text-anchor="start" fill="#000" letter-spacing="4.5">****</text>
<line x1="298.5" x2="298.5" y1="1058.1" y2="1068.5" stroke="#000" stroke-width="3.3"/>
<text x="298.5" y="1096.4" font-size="26.5" font-weight="bold" font-style="italic" text-anchor="middle" fill="#000">RAD50</text>
<rect x="387.6" y="818.8" width="31.7" height="239.3" fill="#fff" stroke="#000" stroke-width="3.3"/>
<rect x="422.4" y="1011.9" width="31.7" height="46.2" fill="#fff" stroke="#a00000" stroke-width="3.3"/>
<rect x="457.4" y="1018.1" width="31.7" height="40.0" fill="#fff" stroke="#008000" stroke-width="3.3"/>
<path d="M403.4 767.2V866.9M394.8 767.2h17.2M394.8 866.9h17.2" stroke="#000" stroke-width="3.3" fill="none"/>
<path d="M438.3 999.1V1021.9M429.7 999.1h17.2M429.7 1021.9h17.2" stroke="#a00000" stroke-width="3.3" fill="none"/>
<path d="M473.3 1015.0V1021.4M464.7 1015.0h17.2M464.7 1021.4h17.2" stroke="#008000" stroke-width="3.3" fill="none"/>
<circle cx="403.4" cy="765" r="3.8" fill="#000"/>
<circle cx="403.4" cy="781.7" r="3.8" fill="#000"/>
<circle cx="403.4" cy="855.4" r="3.8" fill="#000"/>
<circle cx="403.4" cy="864.3" r="3.8" fill="#000"/>
<rect x="427.6" y="998.1" width="7.4" height="7.4" fill="#a00000"/>
<rect x="441.6" y="995.7" width="7.4" height="7.4" fill="#a00000"/>
<rect x="434.6" y="1013.5" width="7.4" height="7.4" fill="#a00000"/>
<rect x="434.6" y="1019.7" width="7.4" height="7.4" fill="#a00000"/>
<polygon points="452.9,1009.6 464.9,1009.6 458.9,1020.6" fill="#008000"/>
<polygon points="467.3,1010 479.3,1010 473.3,1021.0" fill="#008000"/>
<polygon points="481.3,1015.8 493.3,1015.8 487.3,1026.8" fill="#008000"/>
<polygon points="451.8,1020 463.8,1020 457.8,1031.0" fill="#008000"/>
<line x1="390.9" x2="483.2" y1="757.1" y2="757.1" stroke="#000" stroke-width="3.4"/>
<text x="400" y="762.7" font-size="39" font-weight="bold" font-style="normal" text-anchor="start" fill="#000" letter-spacing="4.5">****</text>
<line x1="438.3" x2="438.3" y1="1058.1" y2="1068.5" stroke="#000" stroke-width="3.3"/>
<text x="438.3" y="1096.4" font-size="26.5" font-weight="bold" font-style="italic" text-anchor="middle" fill="#000">RAD51</text>
<rect x="527.4" y="821.7" width="31.7" height="236.4" fill="#fff" stroke="#000" stroke-width="3.3"/>
<rect x="562.2" y="1051.5" width="31.7" height="6.6" fill="#fff" stroke="#a00000" stroke-width="3.3"/>
<rect x="597.2" y="1036.1" width="31.7" height="22.0" fill="#fff" stroke="#008000" stroke-width="3.3"/>
<path d="M543.2 793.7V846.5M534.6 793.7h17.2M534.6 846.5h17.2" stroke="#000" stroke-width="3.3" fill="none"/>
<path d="M578.1 1048.6V1052.9M569.5 1048.6h17.2M569.5 1052.9h17.2" stroke="#a00000" stroke-width="3.3" fill="none"/>
<path d="M613.1 1031.6V1038.0M604.5 1031.6h17.2M604.5 1038.0h17.2" stroke="#008000" stroke-width="3.3" fill="none"/>
<circle cx="543.2" cy="786.1" r="3.8" fill="#000"/>
<circle cx="543.2" cy="813.8" r="3.8" fill="#000"/>
<circle cx="543.2" cy="834.1" r="3.8" fill="#000"/>
<circle cx="543.2" cy="847.1" r="3.8" fill="#000"/>
<rect x="560.4" y="1047.1" width="7.4" height="7.4" fill="#a00000"/>
<rect x="569.7" y="1043.7" width="7.4" height="7.4" fill="#a00000"/>
<rect x="579.1" y="1046.4" width="7.4" height="7.4" fill="#a00000"/>
<rect x="588.0" y="1045.1" width="7.4" height="7.4" fill="#a00000"/>
<polygon points="592.1,1033.8 604.1,1033.8 598.1,1044.8" fill="#008000"/>
<polygon points="621.1,1023 633.1,1023 627.1,1034.0" fill="#008000"/>
<polygon points="622.7,1033 634.7,1033 628.7,1044.0" fill="#008000"/>
<polygon points="606.8,1029.4 618.8,1029.4 612.8,1040.4" fill="#008000"/>
<line x1="530.9" x2="623.2" y1="774.2" y2="774.2" stroke="#000" stroke-width="3.4"/>
<text x="540" y="780.0" font-size="39" font-weight="bold" font-style="normal" text-anchor="start" fill="#000" letter-spacing="4.5">****</text>
<line x1="578.1" x2="578.1" y1="1058.1" y2="1068.5" stroke="#000" stroke-width="3.3"/>
<text x="578.1" y="1096.4" font-size="26.5" font-weight="bold" font-style="italic" text-anchor="middle" fill="#000">BRCA1</text>
<rect x="667.1" y="817.9" width="31.7" height="240.2" fill="#fff" stroke="#000" stroke-width="3.3"/>
<rect x="702.0" y="1038.8" width="31.7" height="19.3" fill="#fff" stroke="#a00000" stroke-width="3.3"/>
<rect x="737.0" y="1031.3" width="31.7" height="26.8" fill="#fff" stroke="#008000" stroke-width="3.3"/>
<path d="M683.0 762.9V870.0M674.4 762.9h17.2M674.4 870.0h17.2" stroke="#000" stroke-width="3.3" fill="none"/>
<path d="M717.9 1032.3V1040.8M709.3 1032.3h17.2M709.3 1040.8h17.2" stroke="#a00000" stroke-width="3.3" fill="none"/>
<path d="M752.9 1025.9V1033.9M744.3 1025.9h17.2M744.3 1033.9h17.2" stroke="#008000" stroke-width="3.3" fill="none"/>
<circle cx="683.0" cy="763.6" r="3.8" fill="#000"/>
<circle cx="683.0" cy="775.9" r="3.8" fill="#000"/>
<circle cx="675.9" cy="862.9" r="3.8" fill="#000"/>
<circle cx="690.1" cy="862.9" r="3.8" fill="#000"/>
<rect x="728.0" y="1027.3" width="7.4" height="7.4" fill="#a00000"/>
<rect x="700.4" y="1037.1" width="7.4" height="7.4" fill="#a00000"/>
<rect x="715.7" y="1033.7" width="7.4" height="7.4" fill="#a00000"/>
<rect x="728.0" y="1034.7" width="7.4" height="7.4" fill="#a00000"/>
<polygon points="746.7,1013.6 758.7,1013.6 752.7,1024.6" fill="#008000"/>
<polygon points="746.7,1028 758.7,1028 752.7,1039.0" fill="#008000"/>
<polygon points="732.7,1030 744.7,1030 738.7,1041.0" fill="#008000"/>
<polygon points="761.4,1028.3 773.4,1028.3 767.4,1039.3" fill="#008000"/>
<line x1="670.2" x2="762.9" y1="754.1" y2="754.1" stroke="#000" stroke-width="3.4"/>
<text x="679.7" y="761.3" font-size="39" font-weight="bold" font-style="normal" text-anchor="start" fill="#000" letter-spacing="4.5">****</text>
<line x1="717.9" x2="717.9" y1="1058.1" y2="1068.5" stroke="#000" stroke-width="3.3"/>
<text x="717.9" y="1096.4" font-size="26.5" font-weight="bold" font-style="italic" text-anchor="middle" fill="#000">BRCA2</text>
<line x1="226.9" x2="789.5" y1="1058.1" y2="1058.1" stroke="#000" stroke-width="3.4"/>
</g>
</svg>
</body></html>
